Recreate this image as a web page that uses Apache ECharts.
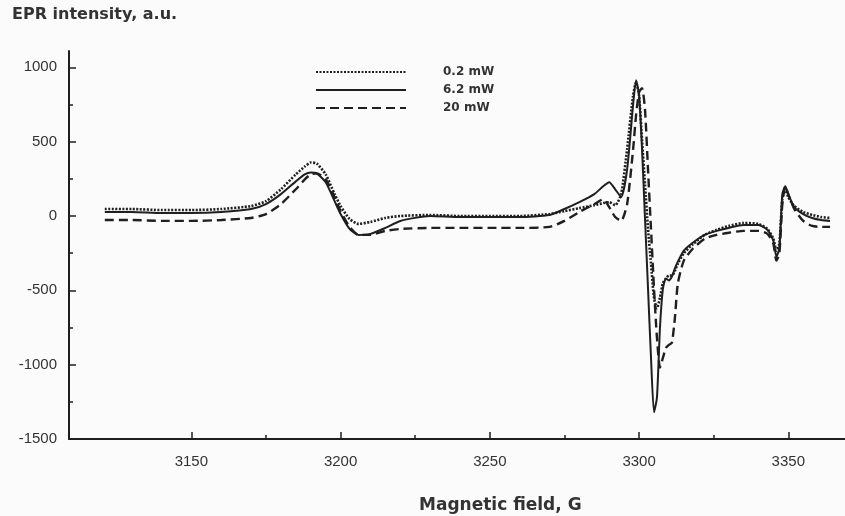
<!DOCTYPE html>
<html>
<head>
<meta charset="utf-8">
<script src="https://cdn.jsdelivr.net/npm/echarts@6/dist/echarts.min.js"></script>
<style>
  html, body { margin: 0; padding: 0; background: #fbfbfb; }
  #main { width: 845px; height: 516px; }
</style>
</head>
<body>
<div id="main"></div>
<script>
// magnetic field, G (shared by the three spectra)
var fieldG = [3121, 3130, 3140, 3150, 3160, 3170, 3175, 3180, 3185, 3188, 3190, 3192, 3195, 3198,
    3200, 3203, 3206, 3210, 3215, 3220, 3230, 3240, 3250, 3260, 3270, 3275, 3280, 3285, 3288,
    3290, 3292, 3294, 3296, 3298, 3299, 3300, 3301, 3302, 3303, 3304, 3305, 3306, 3307, 3308,
    3309, 3310, 3311, 3312, 3313, 3315, 3318, 3322, 3326, 3330, 3335, 3340, 3343, 3345, 3346,
    3347, 3348, 3349, 3350, 3352, 3355, 3358, 3361, 3364];

// EPR intensity, a.u.
var p02 = [47, 47, 40, 40, 47, 67, 100, 180, 280, 333, 360, 353, 280, 147,
    67, -20, -53, -40, -13, 0, 7, 0, 0, 0, 13, 33, 53, 73, 87,
    93, 73, 147, 450, 810, 900, 810, 510, 213, -87, -320, -550, -620, -550, -450,
    -420, -400, -400, -370, -320, -250, -190, -127, -93, -67, -47, -53, -87, -153, -233,
    -187, 113, 180, 127, 67, 27, 7, -7, -13];

var p62 = [27, 27, 20, 20, 27, 47, 80, 147, 233, 280, 293, 287, 227, 100,
    13, -87, -127, -120, -80, -33, 0, -7, -7, -7, 7, 47, 93, 147, 200,
    227, 180, 127, 313, 747, 913, 813, 447, -20, -487, -953, -1320, -1220, -753, -487,
    -420, -433, -407, -353, -307, -233, -180, -127, -100, -80, -60, -60, -93, -167, -273,
    -220, 147, 200, 147, 60, 13, -13, -27, -33];

var p20 = [-27, -27, -33, -33, -27, -13, 13, 80, 180, 247, 280, 287, 247, 127,
    33, -73, -127, -127, -100, -87, -80, -80, -80, -80, -73, -33, 27, 80, 113,
    60, -7, -33, 80, 447, 680, 833, 860, 713, 313, -87, -487, -820, -1020, -953,
    -887, -867, -853, -687, -453, -300, -220, -153, -127, -113, -100, -100, -120, -187, -300,
    -253, 80, 200, 147, 47, -33, -67, -73, -73];

var xLabels = [3150, 3200, 3250, 3300, 3350];
var xMinor = [3175, 3225, 3275, 3325];
var yLabels = [-1500, -1000, -500, 0, 500, 1000];
var yMinor = [-1250, -750, -250, 250, 750];

function pairs(vals) {
    var out = [];
    for (var i = 0; i < fieldG.length; i++) {
        out.push([fieldG[i], vals[i]]);
    }
    return out;
}

function plain(v) {
    return String(v);
}

var ink = '#1f1f1f';
var myChart = echarts.init(document.getElementById('main'));

var option = {
    backgroundColor: '#fbfbfb',
    animation: false,
    title: [{
        text: 'EPR intensity, a.u.',
        left: 7,
        top: 2,
        textStyle: { fontFamily: 'DejaVu Sans', fontSize: 16, fontWeight: 'bold', color: '#333' }
    }, {
        text: 'Magnetic field, G',
        left: 414,
        top: 492,
        textStyle: { fontFamily: 'DejaVu Sans', fontSize: 17, fontWeight: 'bold', color: '#333' }
    }],
    legend: {
        orient: 'vertical',
        left: 310,
        top: 61,
        itemWidth: 90,
        itemHeight: 14,
        itemGap: 6,
        itemStyle: { color: 'transparent', borderWidth: 0 },
        textStyle: {
            fontFamily: 'DejaVu Sans', fontSize: 12, fontWeight: 'bold', color: '#333',
            padding: [0, 0, 0, 32]
        },
        data: ['0.2 mW', '6.2 mW', '20 mW']
    },
    grid: { left: 69, right: 0, top: 51, bottom: 77 },
    xAxis: [{
        type: 'value',
        min: 3109,
        max: 3369,
        axisLine: { onZero: false, lineStyle: { color: ink, width: 2 } },
        axisTick: { inside: true, length: 7, customValues: xLabels, lineStyle: { color: ink, width: 1.5 } },
        axisLabel: { customValues: xLabels, formatter: plain, margin: 15, fontFamily: 'Liberation Sans', fontSize: 15, color: '#333' },
        splitLine: { show: false }
    }, {
        type: 'value',
        min: 3109,
        max: 3369,
        position: 'bottom',
        axisLine: { show: false, onZero: false },
        axisTick: { inside: true, length: 4, customValues: xMinor, lineStyle: { color: ink, width: 1.5 } },
        axisLabel: { show: false },
        splitLine: { show: false }
    }],
    yAxis: [{
        type: 'value',
        min: -1500,
        max: 1110,
        axisLine: { show: true, onZero: false, lineStyle: { color: ink, width: 2 } },
        axisTick: { show: true, inside: true, length: 7, customValues: yLabels, lineStyle: { color: ink, width: 1.5 } },
        axisLabel: { customValues: yLabels, formatter: plain, margin: 12, fontFamily: 'Liberation Sans', fontSize: 15, color: '#333' },
        splitLine: { show: false }
    }, {
        type: 'value',
        min: -1500,
        max: 1110,
        position: 'left',
        axisLine: { show: false, onZero: false },
        axisTick: { show: true, inside: true, length: 4, customValues: yMinor, lineStyle: { color: ink, width: 1.5 } },
        axisLabel: { show: false },
        splitLine: { show: false }
    }],
    series: [{
        name: '0.2 mW',
        type: 'line',
        symbol: 'none',
        smooth: 0.2,
        lineStyle: { color: ink, width: 2.6, type: [2, 1.5] },
        itemStyle: { color: ink },
        data: pairs(p02)
    }, {
        name: '6.2 mW',
        type: 'line',
        symbol: 'none',
        smooth: 0.2,
        lineStyle: { color: ink, width: 2 },
        itemStyle: { color: ink },
        data: pairs(p62)
    }, {
        name: '20 mW',
        type: 'line',
        symbol: 'none',
        smooth: 0.2,
        lineStyle: { color: ink, width: 2.4, type: [9, 5] },
        itemStyle: { color: ink },
        data: pairs(p20)
    }]
};

myChart.setOption(option);
</script>
</body>
</html>
